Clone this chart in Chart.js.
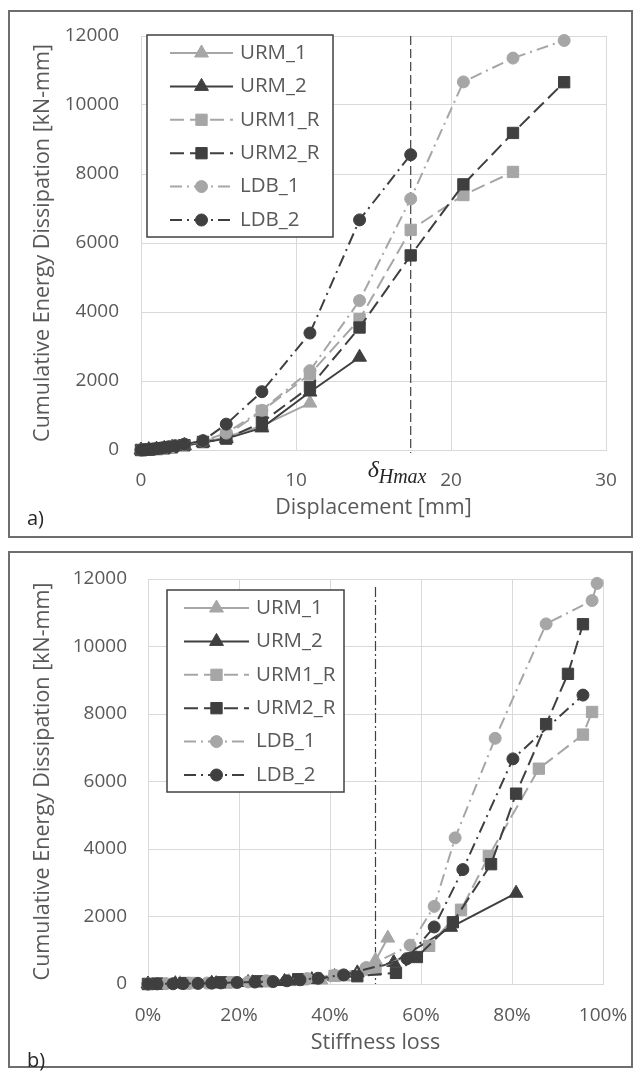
<!DOCTYPE html>
<html lang="en">
<head>
  <meta charset="UTF-8">
  <title>Cumulative energy dissipation</title>
  <script src="https://cdn.jsdelivr.net/npm/chart.js"></script>
  <style>
    body { margin: 0; background: #fff; font-family: "Open Sans", sans-serif; }
    .frame { position: absolute; left: 8px; width: 625px; border: 2px solid #6e6e6e; box-sizing: border-box; }
    #frameA { top: 10px; height: 528px; }
    #frameB { top: 551px; height: 517px; }
    canvas { position: absolute; left: 10px; }
    #dispChart { top: 12px; }
    #stiffChart { top: 553px; }
    .tag { position: absolute; left: 27px; font-size: 20px; line-height: 20px; color: #262626; }
  </style>
</head>
<body>
  <div class="frame" id="frameA"></div>
  <div class="frame" id="frameB"></div>
  <canvas id="dispChart" width="621" height="524"></canvas>
  <canvas id="stiffChart" width="621" height="513"></canvas>
  <div class="tag" style="top:508px">a)</div>
  <div class="tag" style="top:1050px">b)</div>

  <script>
    // displacement levels [mm] per series
    const urm1Disp  = [0, 0.5, 1, 1.5, 2, 2.8, 4, 5.5, 7.8, 10.9];
    const urm2Disp  = [0, 0.5, 1, 1.5, 2, 2.8, 4, 5.5, 7.8, 10.9, 14.1];
    const urm1rDisp = [0, 0.5, 1, 1.5, 2, 2.8, 4, 5.5, 7.8, 10.9, 14.1, 17.4, 20.8, 24];
    const urm2rDisp = [0, 0.5, 1, 1.5, 2, 2.8, 4, 5.5, 7.8, 10.9, 14.1, 17.4, 20.8, 24, 27.3];
    const ldb1Disp  = [0, 0.3, 0.6, 0.9, 1.2, 1.5, 2, 2.8, 4, 5.5, 7.8, 10.9, 14.1, 17.4, 20.8, 24, 27.3];
    const ldb2Disp  = [0, 0.15, 0.3, 0.45, 0.6, 0.75, 0.9, 1.1, 1.3, 1.5, 1.8, 2.2, 2.8, 4, 5.5, 7.8, 10.9, 14.1, 17.4];

    // cumulative energy [kN-mm] per series
    const urm1Energy  = [0, 10, 25, 45, 70, 120, 210, 380, 700, 1360];
    const urm2Energy  = [0, 10, 25, 45, 75, 130, 220, 330, 640, 1680, 2690];
    const urm1rEnergy = [0, 12, 30, 50, 80, 140, 240, 420, 1130, 2200, 3790, 6380, 7390, 8060];
    const urm2rEnergy = [0, 12, 28, 50, 80, 140, 230, 330, 800, 1830, 3550, 5640, 7700, 9190, 10660];
    const ldb1Energy  = [0, 8, 18, 30, 45, 60, 95, 160, 260, 490, 1150, 2300, 4330, 7280, 10670, 11360, 11870];
    const ldb2Energy  = [0, 3, 7, 12, 18, 25, 33, 45, 58, 72, 95, 125, 170, 270, 750, 1690, 3390, 6670, 8560];

    // stiffness loss [%] per series
    const urm1Stiff  = [0, 7, 15, 23, 31, 38, 43, 47, 50, 52.7];
    const urm2Stiff  = [0, 6, 14, 22, 30, 36, 41, 46, 54, 66.5, 80.9];
    const urm1rStiff = [0, 3, 10, 18, 26, 34, 41, 50, 61.8, 68.8, 74.9, 85.9, 95.6, 97.6];
    const urm2rStiff = [0, 2, 8, 16, 24, 33, 46, 54.5, 59.1, 67, 75.4, 80.9, 87.5, 92.3, 95.6];
    const ldb1Stiff  = [0, 4, 9, 13, 18, 22, 26, 35, 41, 48, 57.6, 62.9, 67.5, 76.3, 87.5, 97.6, 98.7];
    const ldb2Stiff  = [0, 2, 5.5, 7.7, 11, 14, 16, 19.6, 23.5, 27.5, 30.5, 33.4, 37.4, 43, 56.9, 62.9, 69.2, 80.2, 95.6];

    const seriesNames = ['URM_1', 'URM_2', 'URM1_R', 'URM2_R', 'LDB_1', 'LDB_2'];
    const hmaxDisp = 17.4;     // displacement at max lateral force
    const stiffMark = 50;      // 50% stiffness loss marker

    const light = '#a6a6a6';
    const dark = '#3f3f3f';
    const txt = '#595959';
    const fam = '"Open Sans", sans-serif';

    const styles = [
      { color: light, dash: [], point: 'triangle', r: 8 },
      { color: dark, dash: [], point: 'triangle', r: 8 },
      { color: light, dash: [14, 6], point: 'rect', r: 8 },
      { color: dark, dash: [14, 6], point: 'rect', r: 8 },
      { color: light, dash: [12, 5, 2, 5], point: 'circle', r: 6 },
      { color: dark, dash: [12, 5, 2, 5], point: 'circle', r: 6 }
    ];

    function pts(xs, ys) { return xs.map((x, i) => ({ x: x, y: ys[i] })); }

    function makeSets(xLists) {
      const yLists = [urm1Energy, urm2Energy, urm1rEnergy, urm2rEnergy, ldb1Energy, ldb2Energy];
      return seriesNames.map((name, i) => ({
        label: name,
        data: pts(xLists[i], yLists[i]),
        showLine: true,
        borderColor: styles[i].color,
        borderWidth: 2,
        borderDash: styles[i].dash,
        pointStyle: styles[i].point,
        pointRadius: styles[i].r,
        pointBackgroundColor: styles[i].color,
        pointBorderColor: styles[i].color,
        pointBorderWidth: 1,
        order: 6 - i,
        clip: false
      }));
    }

    // legend box drawn inside the plot area, Excel style
    const boxLegend = {
      id: 'boxLegend',
      afterDraw(chart, args, o) {
        const ctx = chart.ctx;
        const a = chart.chartArea;
        const x0 = a.left + o.dx, y0 = a.top + o.dy;
        ctx.save();
        ctx.fillStyle = '#fff';
        ctx.fillRect(x0, y0, o.w, o.h);
        ctx.strokeStyle = '#404040';
        ctx.lineWidth = 1.5;
        ctx.strokeRect(x0, y0, o.w, o.h);
        chart.data.datasets.forEach((ds, i) => {
          const y = y0 + o.first + i * o.step;
          ctx.setLineDash(ds.borderDash);
          ctx.strokeStyle = ds.borderColor;
          ctx.lineWidth = ds.borderWidth;
          ctx.beginPath();
          ctx.moveTo(x0 + o.l0, y);
          ctx.lineTo(x0 + o.l1, y);
          ctx.stroke();
          ctx.setLineDash([]);
          ctx.fillStyle = ds.pointBackgroundColor;
          ctx.strokeStyle = ds.pointBorderColor;
          ctx.lineWidth = 1;
          Chart.helpers.drawPoint(ctx, { pointStyle: ds.pointStyle, radius: ds.pointRadius, rotation: 0, borderWidth: 1 }, x0 + (o.l0 + o.l1) / 2, y);
          ctx.fillStyle = txt;
          ctx.font = '20.5px ' + fam;
          ctx.textBaseline = 'middle';
          ctx.fillText(ds.label, x0 + o.tx, y);
        });
        ctx.restore();
      }
    };

    // vertical reference line (+ optional delta label)
    const refLine = {
      id: 'refLine',
      beforeDatasetsDraw(chart, args, o) {
        const ctx = chart.ctx;
        const a = chart.chartArea;
        const x = chart.scales.x.getPixelForValue(o.value);
        ctx.save();
        ctx.strokeStyle = '#404040';
        ctx.lineWidth = 1.2;
        ctx.setLineDash(o.dash);
        ctx.beginPath();
        ctx.moveTo(x, a.top + o.top);
        ctx.lineTo(x, a.bottom + o.below);
        ctx.stroke();
        ctx.restore();
      },
      afterDraw(chart, args, o) {
        if (!o.label) return;
        const ctx = chart.ctx;
        const a = chart.chartArea;
        const x = chart.scales.x.getPixelForValue(o.value);
        ctx.save();
        ctx.fillStyle = '#262626';
        ctx.textBaseline = 'alphabetic';
        ctx.font = 'italic 24px "Liberation Serif", serif';
        ctx.fillText('\u03B4', x - 43, a.bottom + 27);
        ctx.font = 'italic 20px "Liberation Serif", serif';
        ctx.fillText('Hmax', x - 32, a.bottom + 33);
        ctx.restore();
      }
    };

    function axisFont(size) { return { family: fam, size: size }; }

    // keep the plot area where the layout padding puts it
    function noEdgePad(s) {
      s.paddingTop = 0; s.paddingBottom = 0; s.paddingLeft = 0; s.paddingRight = 0;
    }

    function baseOptions(cfg) {
      return {
        responsive: false,
        animation: false,
        events: [],
        layout: { padding: { left: 0, top: cfg.top, right: cfg.right, bottom: 0 } },
        plugins: {
          legend: { display: false },
          tooltip: { enabled: false },
          boxLegend: cfg.legend,
          refLine: cfg.ref
        },
        scales: {
          x: {
            type: 'linear',
            min: cfg.xMin, max: cfg.xMax,
            ticks: { stepSize: cfg.xStep, padding: cfg.xPad, color: txt, font: axisFont(19), callback: cfg.xFmt },
            grid: { color: '#d9d9d9', lineWidth: 1, drawTicks: false },
            border: { color: '#d9d9d9' },
            title: { display: true, text: cfg.xTitle, color: txt, font: axisFont(21.5), padding: { top: 0, bottom: cfg.xTitlePad } },
            afterFit: s => { s.height = cfg.xH; noEdgePad(s); }
          },
          y: {
            min: 0, max: 12000,
            ticks: { stepSize: 2000, padding: cfg.yPad, color: txt, font: axisFont(19), callback: v => String(v) },
            grid: { color: '#d9d9d9', lineWidth: 1, drawTicks: false },
            border: { color: '#d9d9d9' },
            title: { display: true, text: 'Cumulative Energy Dissipation [kN-mm]', color: txt, font: axisFont(21.5), padding: { top: 20, bottom: 0 } },
            afterFit: s => { s.width = cfg.yW; noEdgePad(s); }
          }
        }
      };
    }

    new Chart(document.getElementById('dispChart'), {
      type: 'scatter',
      data: { datasets: makeSets([urm1Disp, urm2Disp, urm1rDisp, urm2rDisp, ldb1Disp, ldb2Disp]) },
      options: baseOptions({
        top: 24, right: 25, xH: 86, yW: 131,
        xMin: 0, xMax: 30, xStep: 10, xPad: 19, xTitlePad: 15, yPad: 22,
        xFmt: v => String(v),
        xTitle: 'Displacement [mm]',
        legend: { dx: 6, dy: -1, w: 186, h: 202, first: 18, step: 33.4, l0: 23, l1: 86, tx: 93 },
        ref: { value: hmaxDisp, dash: [9, 4], top: 0, below: 3, label: true }
      }),
      plugins: [boxLegend, refLine]
    });

    new Chart(document.getElementById('stiffChart'), {
      type: 'scatter',
      data: { datasets: makeSets([urm1Stiff, urm2Stiff, urm1rStiff, urm2rStiff, ldb1Stiff, ldb2Stiff]) },
      options: baseOptions({
        top: 26, right: 28, xH: 82, yW: 138,
        xMin: 0, xMax: 100, xStep: 20, xPad: 20, xTitlePad: 10, yPad: 21,
        xFmt: v => v + '%',
        xTitle: 'Stiffness loss',
        legend: { dx: 19, dy: 11, w: 177, h: 202, first: 18, step: 33.4, l0: 17, l1: 82, tx: 89 },
        ref: { value: stiffMark, dash: [10, 3, 2, 3], top: 8, below: 0, label: false }
      }),
      plugins: [boxLegend, refLine]
    });
  </script>
</body>
</html>
